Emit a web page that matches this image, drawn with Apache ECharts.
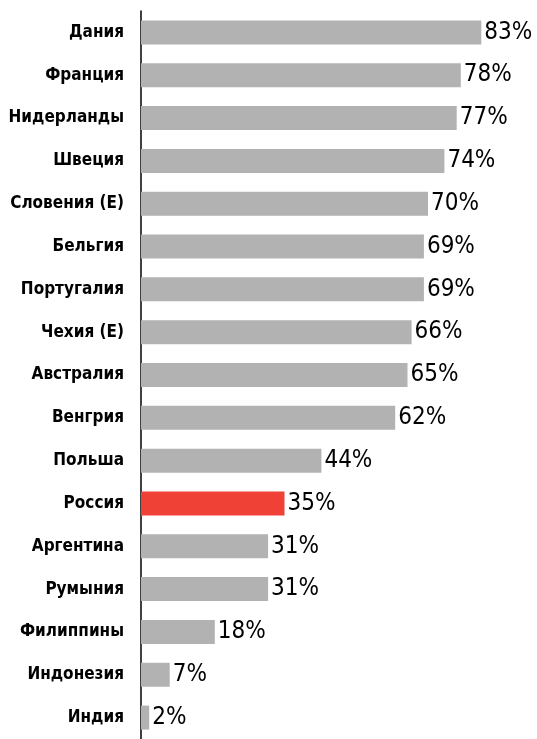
<!DOCTYPE html>
<html lang="ru">
<head>
	<meta charset="UTF-8">
	<title>Страны</title>
	<style type="text/css">
		html, body { margin: 0; padding: 0; background: #fff; }
		#main { width: 537px; height: 739px; }
	</style>
	<script type="text/javascript" src="https://cdn.jsdelivr.net/npm/echarts@6/dist/echarts.min.js"></script>
</head>
<body>
	<div id="main"></div>
	<script type="text/javascript">
		var countries = ['Дания', 'Франция', 'Нидерланды', 'Швеция', 'Словения (E)', 'Бельгия', 'Португалия',
			'Чехия (E)', 'Австралия', 'Венгрия', 'Польша', 'Россия', 'Аргентина', 'Румыния', 'Филиппины',
			'Индонезия', 'Индия'];
		var values = [83, 78, 77, 74, 70, 69, 69, 66, 65, 62, 44, 35, 31, 31, 18, 7, 2];
		var highlight = 'Россия';

		var chart = echarts.init(document.getElementById('main'), null, { renderer: 'canvas' });

		var seriesData = [];
		for (var i = 0; i < values.length; i++) {
			seriesData.push({
				value: values[i],
				itemStyle: { color: countries[i] === highlight ? '#ef4136' : '#b2b2b2' }
			});
		}

		var option = {
			animation: false,
			grid: { left: 141, right: 27, top: 11, bottom: -6 },
			xAxis: {
				type: 'value',
				min: 0,
				max: 90,
				show: false
			},
			yAxis: {
				type: 'category',
				inverse: true,
				data: countries,
				axisLine: { lineStyle: { color: '#000', width: 1.5 } },
				axisTick: { show: false },
				axisLabel: {
					margin: 17,
					color: '#000',
					fontFamily: "'DejaVu Sans Condensed', sans-serif",
					fontWeight: 'bold',
					fontSize: 17
				}
			},
			series: [{
				type: 'bar',
				barWidth: 24,
				data: seriesData,
				label: {
					show: true,
					position: 'right',
					distance: 3,
					formatter: '{c}%',
					color: '#000',
					fontFamily: "'DejaVu Sans Condensed', sans-serif",
					fontSize: 24
				}
			}]
		};

		chart.setOption(option);
	</script>
</body>
</html>
